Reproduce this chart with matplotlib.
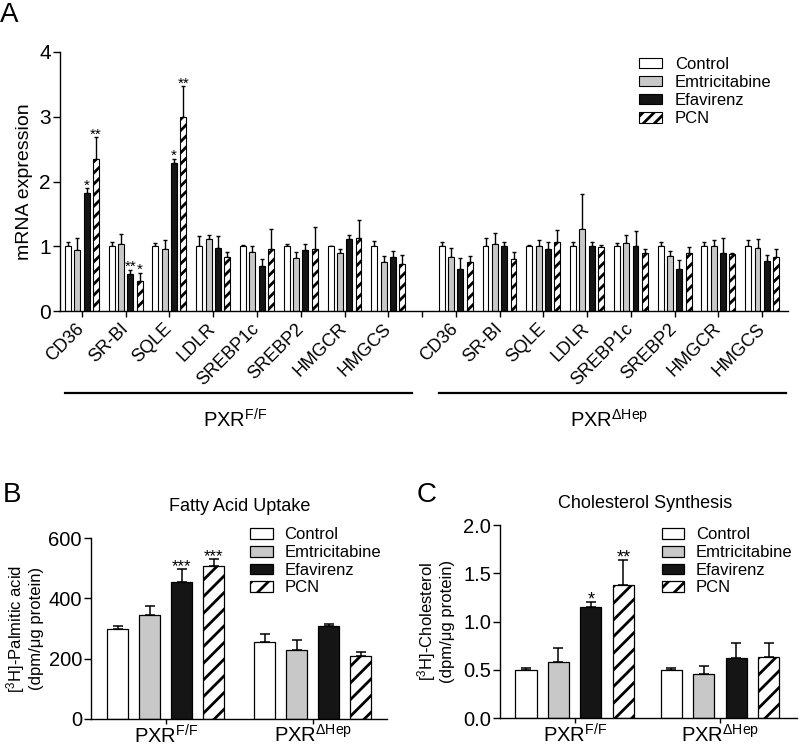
import numpy as np
import matplotlib
matplotlib.use("Agg")
import matplotlib.pyplot as plt
from matplotlib.patches import Patch

plt.rcParams['font.family'] = ['Liberation Sans', 'DejaVu Sans']
plt.rcParams['mathtext.fontset'] = 'custom'
plt.rcParams['mathtext.rm'] = 'Liberation Sans'
plt.rcParams['mathtext.it'] = 'Liberation Sans'
plt.rcParams['mathtext.bf'] = 'Liberation Sans'
plt.rcParams['hatch.linewidth'] = 2.0
plt.rcParams['axes.linewidth'] = 1.0

# ---------------- data ----------------
genes = ["CD36", "SR-BI", "SQLE", "LDLR", "SREBP1c", "SREBP2", "HMGCR", "HMGCS"]
treatments = ["Control", "Emtricitabine", "Efavirenz", "PCN"]
genotypes = [r"PXR$^{\mathrm{F/F}}$", r"PXR$^{\mathrm{\Delta Hep}}$"]

# Panel A: PXR F/F
ff_control = [1.00, 1.00, 1.00, 1.00, 1.00, 1.00, 1.00, 1.00]
ff_control_err = [0.07, 0.07, 0.05, 0.16, 0.02, 0.03, 0.01, 0.08]
ff_emtri = [0.94, 1.04, 0.95, 1.11, 0.91, 0.82, 0.89, 0.75]
ff_emtri_err = [0.18, 0.15, 0.15, 0.07, 0.09, 0.09, 0.06, 0.10]
ff_efav = [1.82, 0.57, 2.28, 0.98, 0.69, 0.94, 1.11, 0.83]
ff_efav_err = [0.08, 0.07, 0.07, 0.18, 0.12, 0.10, 0.07, 0.09]
ff_pcn = [2.35, 0.46, 3.00, 0.84, 0.96, 0.96, 1.13, 0.72]
ff_pcn_err = [0.33, 0.13, 0.47, 0.07, 0.31, 0.34, 0.27, 0.14]

# Panel A: PXR dHep
hep_control = [1.00, 1.00, 1.00, 1.00, 1.00, 1.00, 1.00, 1.00]
hep_control_err = [0.06, 0.13, 0.015, 0.06, 0.05, 0.06, 0.06, 0.10]
hep_emtri = [0.83, 1.03, 1.00, 1.26, 1.05, 0.85, 1.00, 0.98]
hep_emtri_err = [0.15, 0.18, 0.09, 0.54, 0.12, 0.08, 0.10, 0.13]
hep_efav = [0.65, 1.00, 0.95, 1.00, 1.01, 0.65, 0.89, 0.77]
hep_efav_err = [0.17, 0.06, 0.12, 0.07, 0.22, 0.14, 0.23, 0.09]
hep_pcn = [0.76, 0.81, 1.07, 0.99, 0.90, 0.90, 0.88, 0.84]
hep_pcn_err = [0.09, 0.10, 0.18, 0.03, 0.06, 0.09, 0.02, 0.11]

# significance marks in A: (genotype index, gene index, treatment index, label)
stars_a = [(0, 0, 2, "*"), (0, 0, 3, "**"),
           (0, 1, 2, "**"), (0, 1, 3, "*"),
           (0, 2, 2, "*"), (0, 2, 3, "**")]

# Panel B: fatty acid uptake
palm_ff = [298, 344, 455, 506]
palm_ff_err = [11, 30, 41, 24]
palm_hep = [255, 227, 307, 207]
palm_hep_err = [26, 33, 7, 13]
palm_stars_ff = ["", "", "***", "***"]

# Panel C: cholesterol synthesis
chol_ff = [0.494, 0.58, 1.155, 1.376]
chol_ff_err = [0.026, 0.15, 0.045, 0.26]
chol_hep = [0.494, 0.46, 0.62, 0.634]
chol_hep_err = [0.021, 0.075, 0.16, 0.146]
chol_stars_ff = ["", "", "*", "**"]

# ---------------- styles ----------------
facecolors = ["white", "#c8c8c8", "#151515", "white"]
hatches = [None, None, None, "///"]

fig = plt.figure(figsize=(8.0, 7.46), dpi=100)


def style_axes(ax):
    ax.spines['top'].set_visible(False)
    ax.spines['right'].set_visible(False)
    ax.tick_params(direction='out', width=1.0)
    ax.tick_params(axis='y', length=5, pad=1.5)


# ---------------- Panel A ----------------
axA = fig.add_axes([0.075, 0.5831, 0.91, 0.3472])
style_axes(axA)
ff_series = [(ff_control, ff_control_err), (ff_emtri, ff_emtri_err),
             (ff_efav, ff_efav_err), (ff_pcn, ff_pcn_err)]
hep_series = [(hep_control, hep_control_err), (hep_emtri, hep_emtri_err),
              (hep_efav, hep_efav_err), (hep_pcn, hep_pcn_err)]
n = len(genes)
pos_groups = [np.arange(n, dtype=float), np.arange(n, dtype=float) + 8.54]
gap_tick = 7.78
offsets = np.array([-1.5, -0.5, 0.5, 1.5]) * 0.213
bw = 0.135
for g, series in enumerate([ff_series, hep_series]):
    for t, (vals, errs) in enumerate(series):
        xs = pos_groups[g] + offsets[t]
        axA.errorbar(xs, vals, yerr=[np.zeros(n), errs], fmt='none',
                     ecolor='black', elinewidth=1.0, capsize=1.6,
                     capthick=1.0, zorder=1)
        axA.bar(xs, vals, width=bw, color=facecolors[t], edgecolor='black',
                linewidth=0.8, hatch=hatches[t], zorder=2)
for g, gi, t, lab in stars_a:
    series = ff_series if g == 0 else hep_series
    top = series[t][0][gi] + series[t][1][gi]
    axA.annotate(lab, (pos_groups[g][gi] + offsets[t], top), xytext=(0, -1),
                 textcoords='offset points', ha='center', va='baseline',
                 fontsize=11)

ticks = list(pos_groups[0]) + [gap_tick] + list(pos_groups[1])
labels = genes + [""] + genes
axA.set_xticks(ticks)
axA.set_xticklabels(labels, rotation=45, ha='right', va='center',
                    rotation_mode='anchor', fontsize=13)
axA.tick_params(axis='x', length=4, pad=7)
axA.set_xlim(-0.5, 16.13)
axA.set_ylim(0, 4)
axA.set_yticks([0, 1, 2, 3, 4])
axA.tick_params(axis='y', labelsize=15)
axA.set_ylabel("mRNA expression", fontsize=14)
axA.yaxis.set_label_coords(-0.037, 0.5)

tr = axA.get_xaxis_transform()
for g in range(2):
    p = pos_groups[g]
    axA.plot([p[0] - 0.39, p[-1] + 0.55], [-0.317, -0.317], color='black',
             lw=1.6, transform=tr, clip_on=False)
    axA.text((p[0] + p[-1]) / 2, -0.448, genotypes[g], transform=tr,
             ha='center', va='baseline', fontsize=14.5)

legA = [Patch(facecolor=facecolors[t], edgecolor='black', linewidth=0.8,
              hatch=hatches[t], label=treatments[t]) for t in range(4)]
fig.legend(handles=legA, loc='upper left', bbox_to_anchor=(0.799, 0.924),
           frameon=False, fontsize=12, handlelength=1.35, handleheight=0.6,
           handletextpad=0.8, labelspacing=0.19, borderpad=0, borderaxespad=0)


# ---------------- Panels B & C ----------------
def group_panel(rect, ff, ff_err, hep, hep_err, stars, ylim, yticks,
                yticklabels, ylabel, title, title_xy, leg_anchor, gap, xlim,
                star_fs):
    ax = fig.add_axes(rect)
    style_axes(ax)
    centers = np.array([0.0, gap])
    offs = np.array([-1.5, -0.5, 0.5, 1.5])
    for g, (vals, errs) in enumerate([(ff, ff_err), (hep, hep_err)]):
        xs = centers[g] + offs
        for t in range(4):
            ax.errorbar([xs[t]], [vals[t]], yerr=[[0], [errs[t]]], fmt='none',
                        ecolor='black', elinewidth=1.1, capsize=3.6,
                        capthick=1.1, zorder=1)
            ax.bar([xs[t]], [vals[t]], width=0.65, color=facecolors[t],
                   edgecolor='black', linewidth=0.9,
                   hatch=(None if hatches[t] is None else "//"), zorder=2)
        if g == 0:
            for t in range(4):
                if stars[t]:
                    ax.annotate(stars[t], (xs[t], vals[t] + errs[t]),
                                xytext=(0, -1.5), textcoords='offset points',
                                ha='center', va='baseline', fontsize=star_fs)
    ax.set_xticks(centers)
    ax.set_xticklabels(genotypes, fontsize=14.5)
    ax.tick_params(axis='x', length=3.5, pad=0.5)
    ax.set_xlim(*xlim)
    ax.set_ylim(*ylim)
    ax.set_yticks(yticks)
    ax.set_yticklabels(yticklabels, fontsize=14.5)
    ax.set_ylabel(ylabel, fontsize=12, linespacing=1.15)
    fig.text(title_xy[0], title_xy[1], title, fontsize=13, ha='center',
             va='center')
    leg = [Patch(facecolor=facecolors[t], edgecolor='black', linewidth=0.9,
                 hatch=(None if hatches[t] is None else "//"),
                 label=treatments[t]) for t in range(4)]
    fig.legend(handles=leg, loc='upper left', bbox_to_anchor=leg_anchor,
               frameon=False, fontsize=12, handlelength=1.35,
               handleheight=0.6, handletextpad=0.7, labelspacing=0.16,
               borderpad=0, borderaxespad=0)
    return ax


axB = group_panel([0.11375, 0.0365, 0.37, 0.2423], palm_ff, palm_ff_err,
                  palm_hep, palm_hep_err, palm_stars_ff, (0, 600),
                  [0, 200, 400, 600], ["0", "200", "400", "600"],
                  "[$^{3}$H]-Palmitic acid\n(dpm/\u03bcg protein)",
                  "Fatty Acid Uptake", (0.30, 0.3204), (0.313, 0.293), 4.6,
                  (-2.33, 6.92), 12)
axB.yaxis.set_label_coords(-0.159, 0.5)

axC = group_panel([0.625, 0.0375, 0.37125, 0.2587], chol_ff, chol_ff_err,
                  chol_hep, chol_hep_err, chol_stars_ff, (0, 2.0),
                  [0.0, 0.5, 1.0, 1.5, 2.0],
                  ["0.0", "0.5", "1.0", "1.5", "2.0"],
                  "[$^{3}$H]-Cholesterol\n(dpm/\u03bcg protein)",
                  "Cholesterol Synthesis", (0.806, 0.3244), (0.827, 0.293),
                  4.48, (-2.3, 6.85), 13)
axC.yaxis.set_label_coords(-0.152, 0.5)

# panel letters
fig.text(0.0, 0.9705, "A", fontsize=20, ha='left', va='baseline')
fig.text(0.004, 0.327, "B", fontsize=20, ha='left', va='baseline')
fig.text(0.521, 0.327, "C", fontsize=20, ha='left', va='baseline')

fig.savefig("out.png", dpi=100)
